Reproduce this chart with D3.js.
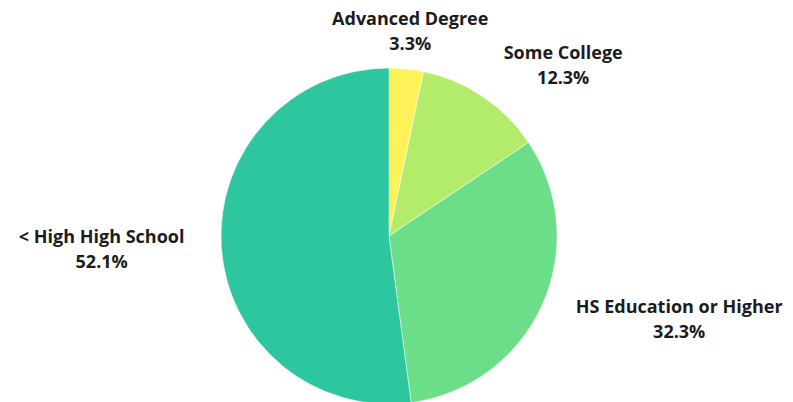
<!DOCTYPE html>
<html>
<head>
<meta charset="utf-8" />
<title>pie</title>
<style>
* { padding: 0; margin: 0; }
body { background: #fff; }
#chart { width: 793px; height: 402px; overflow: hidden; }
text { font-family: "Open Sans", sans-serif; font-weight: 700; font-size: 18px; fill: #1c1c1c; }
</style>
</head>
<body>
<div id="chart"></div>
<script src="https://cdn.jsdelivr.net/npm/d3@7"></script>
<script>
    var categories = ["Advanced Degree", "Some College", "HS Education or Higher", "< High High School"]
    var values = [3.3, 12.3, 32.3, 52.1]
    var colors = ["#fdf257", "#b3ec6a", "#6cdd88", "#2dc69e"]

    var width = 793, height = 402
    var cx = 389, cy = 236, radius = 168

    var svg = d3.select("#chart").append("svg")
        .attr("width", width).attr("height", height)

    var data = categories.map(function(c, i) { return { name: c, value: values[i] } })

    var pie = d3.pie().sort(null).value(function(d) { return d.value })
    var arc = d3.arc().innerRadius(0).outerRadius(radius)
    var color = d3.scaleOrdinal().domain(categories).range(colors)

    var g = svg.append("g").attr("transform", "translate(" + cx + "," + cy + ")")

    var arcs = pie(data)

    g.selectAll("path")
        .data(arcs)
        .enter().append("path")
        .attr("d", arc)
        .attr("fill", function(d) { return color(d.data.name) })
        .attr("stroke", "#fff")
        .attr("stroke-width", 0.5)

    // labels sit outside the pie at the slice midpoint
    var labelArc = d3.arc().innerRadius(radius * 1.22).outerRadius(radius * 1.22)
    var lineGap = 25

    arcs.forEach(function(d) {
        var p = labelArc.centroid(d)
        var mid = (d.startAngle + d.endAngle) / 2
        var s = Math.sin(mid)
        var lbl = g.append("g")
        var t = lbl.append("text").attr("text-anchor", "middle")
        t.append("tspan").attr("x", 0).attr("y", 0).text(d.data.name)
        t.append("tspan").attr("x", 0).attr("y", lineGap).text(d.data.value.toFixed(1) + "%")
        var w = t.node().getBBox().width
        var x = p[0]
        if (s > 0.3) x += w / 2
        else if (s < -0.3) x -= w / 2
        lbl.attr("transform", "translate(" + x + "," + (p[1] - 7) + ")")
    })
</script>
</body>
</html>
